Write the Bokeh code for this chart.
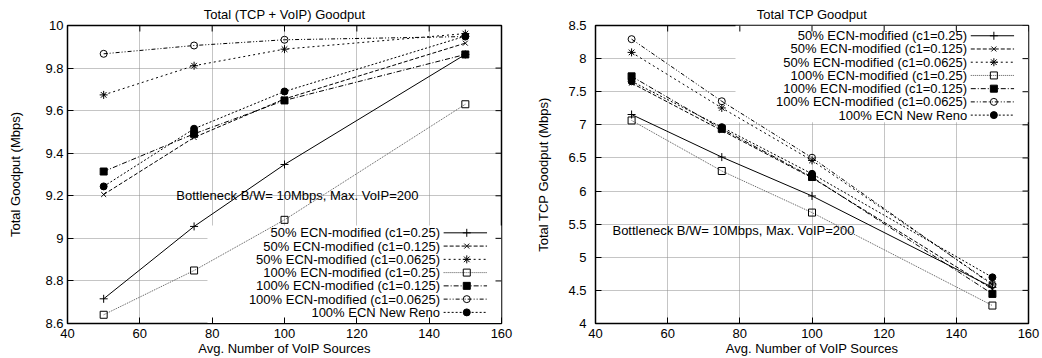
from bokeh.plotting import figure
from bokeh.models import Range1d, BoxAnnotation, FixedTicker, CustomJSTickFormatter
from bokeh.layouts import row
from bokeh.core.properties import value
from bokeh.embed import file_html
from bokeh.resources import INLINE

# ---------------- data ----------------
voip_sources = [50, 75, 100, 150]

series_labels = [
    "50% ECN-modified (c1=0.25)",
    "50% ECN-modified (c1=0.125)",
    "50% ECN-modified (c1=0.0625)",
    "100% ECN-modified (c1=0.25)",
    "100% ECN-modified (c1=0.125)",
    "100% ECN-modified (c1=0.0625)",
    "100% ECN New Reno",
]

# Total (TCP + VoIP) goodput, Mbps
total_50_c0250 = [8.716, 9.056, 9.347, 9.864]
total_50_c0125 = [9.206, 9.474, 9.655, 9.917]
total_50_c0625 = [9.674, 9.811, 9.889, 9.962]
total_100_c0250 = [8.641, 8.849, 9.087, 9.630]
total_100_c0125 = [9.314, 9.491, 9.648, 9.864]
total_100_c0625 = [9.867, 9.906, 9.933, 9.948]
total_100_newreno = [9.244, 9.515, 9.690, 9.950]

# Total TCP goodput, Mbps
tcp_50_c0250 = [7.156, 6.513, 5.926, 4.546]
tcp_50_c0125 = [7.630, 6.915, 6.200, 4.520]
tcp_50_c0625 = [8.094, 7.255, 6.463, 4.597]
tcp_100_c0250 = [7.066, 6.303, 5.675, 4.271]
tcp_100_c0125 = [7.732, 6.939, 6.212, 4.447]
tcp_100_c0625 = [8.294, 7.356, 6.503, 4.582]
tcp_100_newreno = [7.657, 6.965, 6.260, 4.697]

x_ticks = [40, 60, 80, 100, 120, 140, 160]
left_y_ticks = [8.6, 8.8, 9.0, 9.2, 9.4, 9.6, 9.8, 10.0]
right_y_ticks = [4.0, 4.5, 5.0, 5.5, 6.0, 6.5, 7.0, 7.5, 8.0, 8.5]

left_title = "Total (TCP + VoIP) Goodput"
right_title = "Total TCP Goodput"
x_label = "Avg. Number of VoIP Sources"
left_y_label = "Total Goodput (Mbps)"
right_y_label = "Total TCP Goodput (Mbps)"
note_text = "Bottleneck B/W= 10Mbps, Max. VoIP=200"

total_series = [total_50_c0250, total_50_c0125, total_50_c0625, total_100_c0250,
                total_100_c0125, total_100_c0625, total_100_newreno]
tcp_series = [tcp_50_c0250, tcp_50_c0125, tcp_50_c0625, tcp_100_c0250,
              tcp_100_c0125, tcp_100_c0625, tcp_100_newreno]

# ---------------- styles ----------------
FONT = "Liberation Sans"
FS = "13px"
TICK = 6  # px
styles = [
    dict(dash="solid", color="black", markers=["cross"], size=8, fill=None),
    dict(dash="4 2", color="black", markers=["x"], size=7, fill=None),
    dict(dash="2 3", color="black", markers=["cross", "x"], size=8, fill=None),
    dict(dash="1 1", color="#555555", markers=["square"], size=7, fill=None),
    dict(dash="5 2 1 2", color="black", markers=["square"], size=7, fill="black"),
    dict(dash="4 2 1 2 1 2", color="black", markers=["circle"], size=7, fill=None),
    dict(dash="2 2", color="black", markers=["circle"], size=7, fill="black"),
]

fmt = CustomJSTickFormatter(code="return String(Math.round(tick*10)/10);")


def make_plot(title, ylabel, yr, yticks, series, blank, legend_top, legend_step,
              note_xy, left_border, right_border, fw, label_standoff, ylab_standoff):
    fh = 298
    p = figure(x_range=Range1d(40, 160), y_range=Range1d(*yr),
               frame_width=fw, frame_height=fh,
               min_border_left=left_border, min_border_right=right_border,
               min_border_top=25, min_border_bottom=35,
               output_backend="svg", toolbar_location=None, title=title)
    p.title.align = "center"
    p.title.text_font = FONT
    p.title.text_font_size = FS
    p.title.text_font_style = "normal"
    p.title.text_color = "black"
    p.title.standoff = 7
    p.background_fill_color = "white"
    p.border_fill_color = "white"
    p.outline_line_color = "black"
    p.outline_line_width = 1.5

    for ax in p.xaxis:
        ax.ticker = FixedTicker(ticks=x_ticks)
        ax.axis_label = x_label
        ax.axis_label_standoff = 0
        ax.major_label_standoff = 5
    for ax in p.yaxis:
        ax.ticker = FixedTicker(ticks=yticks)
        ax.formatter = fmt
        ax.axis_label = ylabel
        ax.axis_label_standoff = ylab_standoff
        ax.major_label_standoff = label_standoff
    for ax in list(p.xaxis) + list(p.yaxis):
        ax.axis_label_text_font = FONT
        ax.axis_label_text_font_size = FS
        ax.axis_label_text_font_style = "normal"
        ax.axis_label_text_color = "black"
        ax.major_label_text_font = FONT
        ax.major_label_text_font_size = FS
        ax.major_label_text_color = "black"
        ax.major_tick_in = TICK
        ax.major_tick_out = 0
        ax.minor_tick_in = 0
        ax.minor_tick_out = 0
        ax.major_tick_line_color = "black"
        ax.axis_line_color = "black"

    p.xgrid.ticker = FixedTicker(ticks=x_ticks)
    p.ygrid.ticker = FixedTicker(ticks=yticks)
    for g in (p.xgrid, p.ygrid):
        g.grid_line_color = "#8a8a8a"
        g.grid_line_dash = "1 1"
        g.grid_line_width = 1

    # key area is blanked (covers the grid, not the data)
    box = BoxAnnotation(left=blank[0], right=blank[1], bottom=blank[2], top=blank[3],
                        fill_color="white", fill_alpha=1.0, line_alpha=0, level="underlay")
    p.add_layout(box)

    # mirrored inward ticks on top and right borders
    x0, x1 = 40, 160
    y0, y1 = yr
    dx = TICK * (x1 - x0) / fw
    dy = TICK * (y1 - y0) / fh
    p.segment(x0=x_ticks, y0=[y1] * len(x_ticks), x1=x_ticks, y1=[y1 - dy] * len(x_ticks),
              line_color="black", line_width=1)
    p.segment(x0=[x1] * len(yticks), y0=yticks, x1=[x1 - dx] * len(yticks), y1=yticks,
              line_color="black", line_width=1)

    # note text
    p.text(x=[note_xy[0]], y=[note_xy[1]], text=[note_text], text_font=value(FONT),
           text_font_size=FS, text_align="left", text_baseline="middle", text_color="black")

    # data
    for ys, st in zip(series, styles):
        p.line(voip_sources, ys, line_color=st["color"], line_width=1, line_dash=st["dash"])
        for mk in st["markers"]:
            p.scatter(voip_sources, ys, marker=mk, size=st["size"], line_color="black",
                      line_width=1, fill_color=st["fill"])

    # key
    for i, (lab, st) in enumerate(zip(series_labels, styles)):
        yy = legend_top - i * legend_step
        p.text(x=[143.0], y=[yy], text=[lab], text_font=value(FONT), text_font_size=FS,
               text_align="right", text_baseline="middle", text_color="black")
        p.line([144.0, 156.0], [yy, yy], line_color=st["color"], line_width=1, line_dash=st["dash"])
        for mk in st["markers"]:
            p.scatter([150.4], [yy], marker=mk, size=st["size"], line_color="black",
                      line_width=1, fill_color=st["fill"])
    return p


p1 = make_plot(left_title, left_y_label, (8.6, 10.0), left_y_ticks, total_series,
               blank=(78.7, 160, 8.6, 9.06), legend_top=9.026, legend_step=0.0623,
               note_xy=(70.1, 9.2), left_border=67, right_border=19, fw=434,
               label_standoff=4, ylab_standoff=19)
p2 = make_plot(right_title, right_y_label, (4.0, 8.5), right_y_ticks, tcp_series,
               blank=(78.8, 160, 7.04, 8.5), legend_top=8.345, legend_step=0.1997,
               note_xy=(44.7, 5.41), left_border=75, right_border=14, fw=433,
               label_standoff=9, ylab_standoff=14)

layout = row(p1, p2)
open("out.html", "w").write(file_html(layout, INLINE))
